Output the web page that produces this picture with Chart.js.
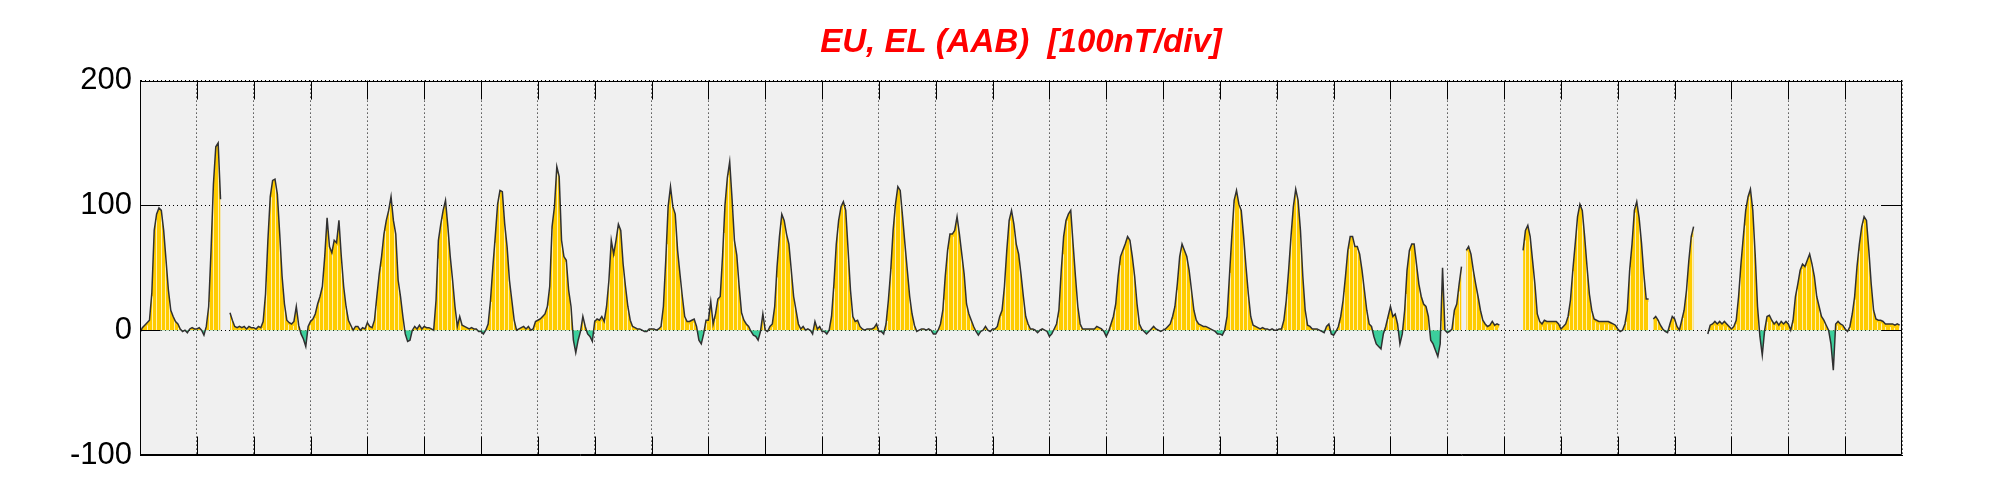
<!DOCTYPE html>
<html lang="en">
<head>
    <meta charset="UTF-8">
    <title>EU, EL (AAB)</title>
    <script src="https://cdn.jsdelivr.net/npm/chart.js"></script>
    <style>
        body { margin: 0; background: #fff; }
        canvas { display: block; }
    </style>
</head>
<body>
    <canvas id="euChart" width="2001" height="500"></canvas>
    <script>
        // hourly values (nT), one array per day, null = no data
        const day01 = [-2, 2, 4, 6, 8, 30, 80, 93, 98, 96, 80, 56, 32, 16, 11, 7, 5, 1, -1, 0, -2, 1, 2, 1];
        const day02 = [1, 2, 0, -4, 3, 19, 64, 117, 147, 150, 105, null, null, null, 14, 8, 3, 2, 3, 2, 3, 1, 3, 2];
        const day03 = [2, 1, 3, 2, 7, 29, 72, 107, 120, 121, 109, 77, 43, 21, 8, 6, 5, 7, 19, 4, -3, -7, -13, 3];
        const day04 = [7, 9, 13, 21, 27, 35, 59, 90, 67, 62, 72, 70, 88, 59, 35, 19, 8, 4, 0, 3, 3, 0, 2, 1];
        const day05 = [6, 3, 2, 8, 27, 45, 59, 77, 88, 96, 107, 88, 77, 40, 27, 11, -3, -9, -8, 0, 3, 1, 4, 1];
        const day06 = [3, 2, 2, 1, 0, 24, 72, 85, 96, 104, 83, 59, 40, 19, 3, 11, 4, 3, 2, 1, 2, 1, 1, -1];
        const day07 = [-1, -3, 0, 5, 24, 51, 75, 101, 112, 111, 85, 67, 40, 24, 8, 0, 1, 2, 3, 1, 3, 0, 1, 7];
        const day08 = [8, 9, 11, 13, 19, 35, 83, 99, 131, 123, 72, 59, 56, 32, 19, -8, -18, -8, -1, 11, 3, -3, -5, -9];
        const day09 = [7, 9, 8, 11, 7, 19, 40, 72, 61, 72, 85, 80, 53, 35, 19, 8, 3, 2, 1, 1, 0, -1, -1, 1];
        const day10 = [1, 1, 0, 1, 3, 19, 56, 99, 115, 99, 93, 64, 45, 27, 11, 7, 7, 8, 9, 3, -8, -11, -3, 8];
        const day11 = [8, 23, 5, 13, 25, 27, 60, 100, 122, 135, 105, 72, 60, 35, 14, 8, 5, 3, -1, -4, -5, -8, -1, 13];
        const day12 = [0, -1, 3, 5, 19, 51, 75, 93, 88, 77, 69, 48, 27, 16, 5, 1, 3, 0, 1, 0, -3, 7, 1, 3];
        const day13 = [-1, -1, -3, 0, 11, 37, 69, 88, 99, 103, 96, 64, 32, 11, 7, 8, 3, 1, 0, 1, 1, 1, 2, 5];
        const day14 = [-1, -1, -3, 5, 24, 48, 80, 101, 115, 112, 91, 69, 48, 27, 13, 4, -1, 0, 1, 1, 0, 1, 0, -3];
        const day15 = [-3, 0, 5, 16, 43, 64, 77, 77, 80, 91, 77, 61, 45, 21, 13, 8, 3, -1, -4, -1, 0, 3, 0, -1];
        const day16 = [1, 1, 3, 11, 16, 35, 64, 88, 96, 85, 69, 61, 45, 27, 11, 5, 1, 1, 0, -2, 0, 1, 0, -1];
        const day17 = [-5, -3, 1, 5, 16, 48, 75, 88, 93, 96, 69, 43, 19, 5, 1, 1, 1, 1, 1, 1, 3, 2, 1, -1];
        const day18 = [-5, -1, 5, 11, 21, 43, 59, 64, 69, 75, 72, 59, 43, 21, 5, 1, -1, -3, -1, 1, 3, 1, 0, -1];
        const day19 = [0, 1, 3, 5, 11, 19, 37, 59, 69, 64, 59, 48, 32, 16, 8, 5, 4, 3, 3, 2, 1, 0, -1, -3];
        const day20 = [-3, -4, 0, 11, 43, 75, 104, 112, 101, 96, 75, 51, 29, 11, 4, 3, 2, 1, 2, 1, 1, 0, 1, 0];
        const day21 = [0, 1, 1, 8, 24, 48, 75, 99, 113, 104, 80, 43, 16, 4, 3, 1, 1, 1, 0, -1, -2, 3, 5, -3];
        const day22 = [-4, -1, 3, 11, 24, 43, 64, 75, 75, 67, 67, 61, 48, 32, 16, 5, 3, -5, -11, -13, -15, -3, 3, 11];
        const day23 = [19, 11, 13, 5, -11, -3, 16, 48, 64, 69, 69, 53, 37, 27, 21, 19, 11, -8, -11, -16, -21, -11, 50, 0];
        const day24 = [-2, -1, 1, 16, 21, 37, 51, null, 64, 67, 61, 48, 37, 27, 16, 8, 5, 3, 4, 7, 4, 5, 4, null];
        const day25 = [null, null, null, null, null, null, null, null, 64, 80, 84, 75, 56, 37, 13, 7, 5, 8, 7, 7, 7, 7, 7, 5];
        const day26 = [1, 3, 5, 11, 24, 48, 69, 91, 101, 96, 75, 51, 29, 16, 9, 8, 7, 7, 7, 7, 7, 6, 5, 4];
        const day27 = [1, -1, 0, 5, 16, 48, 69, 96, 103, 90, 70, 45, 25, 25, null, 9, 11, 8, 4, 1, -1, -2, 5, 11];
        const day28 = [9, 3, 0, 8, 16, 32, 56, 75, 83, null, null, null, null, null, -3, 4, 5, 7, 5, 7, 5, 7, 5, 3];
        const day29 = [1, 3, 8, 27, 53, 75, 96, 107, 113, 96, 61, 19, -5, -20, 0, 11, 12, 8, 5, 7, 4, 7, 5, 7];
        const day30 = [5, 0, 8, 27, 37, 48, 53, 51, 56, 61, 53, 43, 27, 19, 11, 8, 4, 0, -11, -32, 5, 7, 5, 4];
        const day31 = [1, -1, 3, 13, 27, 51, 69, 83, 91, 88, 64, 37, 16, 9, 8, 8, 7, 5, 5, 5, 5, 4, 5, 4];

        const yTicks = [-100, 0, 100, 200];
        const chartTitle = 'EU, EL (AAB)  [100nT/div]';

        const days = [day01, day02, day03, day04, day05, day06, day07, day08, day09, day10,
            day11, day12, day13, day14, day15, day16, day17, day18, day19, day20,
            day21, day22, day23, day24, day25, day26, day27, day28, day29, day30, day31];
        const values = [].concat(...days);
        const nHours = days.length * 24;
        const dayStarts = days.map((d, i) => i * 24).concat([nHours]);

        const fontFamily = '"Liberation Sans", Arial, Helvetica, sans-serif';

        const framePlugin = {
            id: 'frame',
            beforeDraw(chart) {
                const { ctx, chartArea: a } = chart;
                ctx.save();
                ctx.fillStyle = '#f0f0f0';
                ctx.fillRect(a.left, a.top, a.right - a.left, a.bottom - a.top);
                ctx.restore();
            },
            // thin white stripes through the yellow fill
            beforeDatasetDraw(chart, args) {
                if (args.index !== 0) return;
                const { ctx, chartArea: a, scales: { x, y } } = chart;
                const y0 = y.getPixelForValue(0);
                ctx.save();
                ctx.beginPath();
                ctx.rect(a.left, a.top, a.right - a.left, a.bottom - a.top);
                ctx.clip();
                ctx.strokeStyle = 'rgba(255,255,255,0.7)';
                ctx.lineWidth = 1;
                ctx.beginPath();
                for (let px = a.left + 3; px < a.right; px += 4.4) {
                    const t = x.getValueForPixel(px);
                    const i = Math.floor(t);
                    const v0 = values[i], v1 = values[i + 1];
                    if (v0 == null || v1 == null) continue;
                    const v = v0 + (v1 - v0) * (t - i);
                    if (v < 4) continue;
                    const xx = Math.round(px) + 0.5;
                    ctx.moveTo(xx, y0);
                    ctx.lineTo(xx, y.getPixelForValue(v) + 3);
                }
                ctx.stroke();
                ctx.restore();
            },
            afterDraw(chart) {
                const { ctx, chartArea: a, scales: { x, y } } = chart;
                const l = Math.round(a.left) + 0.5, r = Math.round(a.right) - 0.5;
                const t = Math.round(a.top) + 0.5, b = Math.round(a.bottom) - 0.5;
                ctx.save();
                ctx.strokeStyle = '#000';
                ctx.lineWidth = 1;
                ctx.beginPath();
                ctx.rect(l, t, r - l, b - t);
                x.ticks.forEach(tk => {
                    const px = Math.round(x.getPixelForValue(tk.value)) + 0.5;
                    if (px <= l + 1 || px >= r - 1) return;
                    ctx.moveTo(px, t); ctx.lineTo(px, t + 18);
                    ctx.moveTo(px, b); ctx.lineTo(px, b - 18);
                });
                y.ticks.forEach(tk => {
                    const py = Math.round(y.getPixelForValue(tk.value)) + 0.5;
                    ctx.moveTo(l, py); ctx.lineTo(l + 20, py);
                    ctx.moveTo(r, py); ctx.lineTo(r - 20, py);
                });
                ctx.stroke();
                ctx.restore();
            }
        };

        new Chart(document.getElementById('euChart'), {
            type: 'line',
            data: {
                datasets: [{
                    data: values.map((v, i) => ({ x: i, y: v })),
                    borderColor: '#303030',
                    borderWidth: 1.5,
                    pointRadius: 0,
                    tension: 0,
                    spanGaps: false,
                    fill: { target: 'origin', above: '#ffcc00', below: '#3ccf9c' }
                }]
            },
            options: {
                responsive: false,
                animation: false,
                layout: { padding: { left: 0, right: 99, top: 0, bottom: 45 } },
                plugins: {
                    legend: { display: false },
                    tooltip: { enabled: false },
                    title: {
                        display: true,
                        fullSize: false,
                        text: chartTitle,
                        color: '#ff0000',
                        font: { family: fontFamily, size: 33, weight: 'bold', style: 'italic' },
                        padding: { top: 23, bottom: 18 }
                    }
                },
                scales: {
                    x: {
                        type: 'linear',
                        min: 0,
                        max: nHours,
                        afterBuildTicks: s => { s.ticks = dayStarts.map(v => ({ value: v })); },
                        ticks: { display: false },
                        grid: { color: '#000', lineWidth: 1, drawTicks: false, borderDash: [1, 3] },
                        border: { display: true, color: '#000', width: 1, dash: [1, 3] }
                    },
                    y: {
                        min: yTicks[0],
                        max: yTicks[yTicks.length - 1],
                        afterBuildTicks: s => { s.ticks = yTicks.map(v => ({ value: v })); },
                        afterFit: s => { s.width = 140; },
                        ticks: {
                            color: '#000',
                            padding: 8,
                            font: { family: fontFamily, size: 31 }
                        },
                        grid: { color: '#000', lineWidth: 1, drawTicks: false, borderDash: [1, 3] },
                        border: { display: true, color: '#000', width: 1, dash: [1, 3] }
                    }
                }
            },
            plugins: [framePlugin]
        });
    </script>
</body>
</html>
